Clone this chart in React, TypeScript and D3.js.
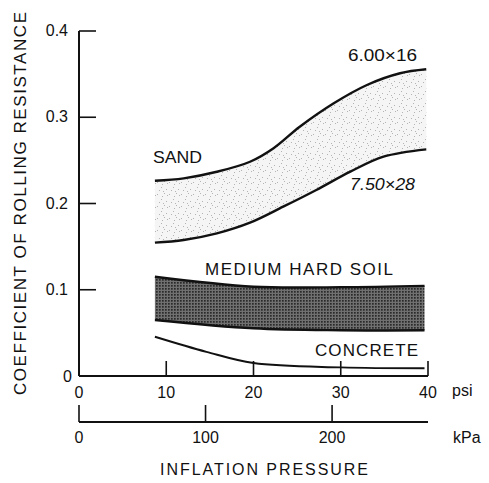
import * as d3 from "d3"

// tyre curves, coefficient vs inflation pressure (psi)
const sandUpperPsi = [8.7, 12, 15.8, 19.6, 22.3, 25.3, 29.2, 33, 36.8, 39.8]
const sand600x16 = [0.2264, 0.2292, 0.2368, 0.2484, 0.2641, 0.289, 0.3162, 0.3374, 0.351, 0.3556]
const sandLowerPsi = [8.7, 12, 15.8, 19.6, 23.4, 27.2, 31.1, 34.9, 39.8]
const sand750x28 = [0.1546, 0.1577, 0.1654, 0.1778, 0.1963, 0.2157, 0.2369, 0.2543, 0.2628]

const soilPsi = [8.7, 20, 30, 39.6]
const soilUpper = [0.115, 0.1035, 0.103, 0.1045]
const soilLower = [0.065, 0.0553, 0.053, 0.053]

const concretePsi = [8.7, 14.6, 20, 30, 39.6]
const concrete = [0.0455, 0.028, 0.015, 0.01, 0.009]

const yTicks = [0, 0.1, 0.2, 0.3, 0.4]
const psiTicks = [0, 10, 20, 30, 40]
const kpaTicks = [0, 100, 200]
const PSI_TO_KPA = 6.895

const W = 489
const H = 483
const font = "'Liberation Sans', Arial, sans-serif"

export default function App() {
  const x = d3.scaleLinear().domain([0, 40]).range([79, 428])
  const y = d3.scaleLinear().domain([0, 0.4]).range([376, 31])
  const kx = d3.scaleLinear().domain([0, 40 * PSI_TO_KPA]).range([79, 428])

  const curve = d3.curveCatmullRom.alpha(0.5)
  const line = d3
    .line<[number, number]>()
    .x((d) => x(d[0]))
    .y((d) => y(d[1]))
    .curve(curve)

  const soilArea = d3
    .area<[number, number, number]>()
    .x((d) => x(d[0]))
    .y0((d) => y(d[2]))
    .y1((d) => y(d[1]))
    .curve(curve)

  const sandUp = sandUpperPsi.map((p, i) => [p, sand600x16[i]] as [number, number])
  const sandLo = sandLowerPsi.map((p, i) => [p, sand750x28[i]] as [number, number])
  const soilUp = soilPsi.map((p, i) => [p, soilUpper[i]] as [number, number])
  const soilLo = soilPsi.map((p, i) => [p, soilLower[i]] as [number, number])
  const soilBand = soilPsi.map((p, i) => [p, soilUpper[i], soilLower[i]] as [number, number, number])
  const conc = concretePsi.map((p, i) => [p, concrete[i]] as [number, number])

  // sand band: upper curve forward, lower curve back
  const upPath = line(sandUp) ?? ""
  const loPath = line([...sandLo].reverse()) ?? ""
  const sandBandPath = upPath + "L" + loPath.slice(1) + "Z"

  // fixed stipple for sand texture
  const stipple = [
    [1, 2], [5, 7], [8, 1], [3, 10], [10, 9], [6, 4], [11, 3], [7, 11],
  ]

  return (
    <svg width={W} height={H} style={{ position: "absolute", left: 0, top: 0, background: "#fff" }} fontFamily={font}>
      <defs>
        <pattern id="sand" width={12} height={12} patternUnits="userSpaceOnUse">
          <rect width={12} height={12} fill="#f5f5f5" />
          {stipple.map(([a, b], i) => (
            <rect key={i} x={a} y={b} width={1} height={1} fill="#b4b4b4" />
          ))}
        </pattern>
        <pattern id="soil" width={3} height={3} patternUnits="userSpaceOnUse">
          <rect width={3} height={3} fill="#707070" />
          <rect width={1.7} height={1.7} fill="#2a2a2a" />
        </pattern>
      </defs>

      {/* bands */}
      <path d={sandBandPath} fill="url(#sand)" />
      <path d={soilArea(soilBand) ?? ""} fill="url(#soil)" />

      {/* curves */}
      <g fill="none" stroke="#111" strokeWidth={2.4}>
        <path d={upPath} />
        <path d={line(sandLo) ?? ""} />
        <path d={line(soilUp) ?? ""} />
        <path d={line(soilLo) ?? ""} />
        <path d={line(conc) ?? ""} strokeWidth={2} />
      </g>

      {/* y axis */}
      <g stroke="#111" strokeWidth={2}>
        <line x1={x(0)} x2={x(0)} y1={y(0.4)} y2={y(0)} />
        {yTicks.filter((t) => t > 0).map((t) => (
          <line key={t} x1={x(0)} x2={x(0) + 17} y1={y(t)} y2={y(t)} strokeWidth={1.6} />
        ))}
        {/* psi axis */}
        <line x1={x(0)} x2={x(40)} y1={y(0)} y2={y(0)} />
        {psiTicks.filter((t) => t > 0).map((t) => (
          <line key={t} x1={x(t)} x2={x(t)} y1={y(0)} y2={y(0) - 15} strokeWidth={1.6} />
        ))}
        {/* kPa axis */}
        <line x1={kx(0)} x2={x(40)} y1={422} y2={422} />
        {kpaTicks.map((t) => (
          <line key={t} x1={kx(t)} x2={kx(t)} y1={422} y2={405} strokeWidth={1.6} />
        ))}
      </g>

      <g fontSize={16} fill="#111">
        {yTicks.map((t) => (
          <text key={t} x={t === 0 ? 72 : 68} y={t === 0 ? y(t) + 6 : y(t) + 5} textAnchor="end">
            {t === 0 ? "0" : t.toFixed(1)}
          </text>
        ))}
        {psiTicks.map((t) => (
          <text key={t} x={x(t)} y={398} textAnchor="middle">
            {t}
          </text>
        ))}
        <text x={452} y={396}>psi</text>
        {kpaTicks.map((t) => (
          <text key={t} x={kx(t)} y={443} textAnchor="middle">
            {t}
          </text>
        ))}
        <text x={453} y={443}>kPa</text>
      </g>

      {/* titles */}
      <text x={160} y={475} fontSize={16} textLength={208} lengthAdjust="spacing" fill="#111">
        INFLATION  PRESSURE
      </text>
      <text
        transform="translate(26,395) rotate(-90)"
        fontSize={17}
        textLength={383}
        lengthAdjust="spacing"
        fill="#111"
      >
        COEFFICIENT OF ROLLING RESISTANCE
      </text>

      {/* curve labels */}
      <g fontSize={16} fill="#111">
        <text x={153} y={163} fontSize={17} textLength={49} lengthAdjust="spacingAndGlyphs">SAND</text>
        <text x={348} y={61} fontSize={16} textLength={69} lengthAdjust="spacingAndGlyphs">6.00×16</text>
        <text x={350} y={190} fontSize={16} fontStyle="italic" textLength={65} lengthAdjust="spacingAndGlyphs">7.50×28</text>
        <text x={205} y={275} fontSize={17} textLength={188} lengthAdjust="spacing">MEDIUM HARD SOIL</text>
        <text x={315} y={356} fontSize={17} textLength={103} lengthAdjust="spacing">CONCRETE</text>
      </g>
    </svg>
  )
}
